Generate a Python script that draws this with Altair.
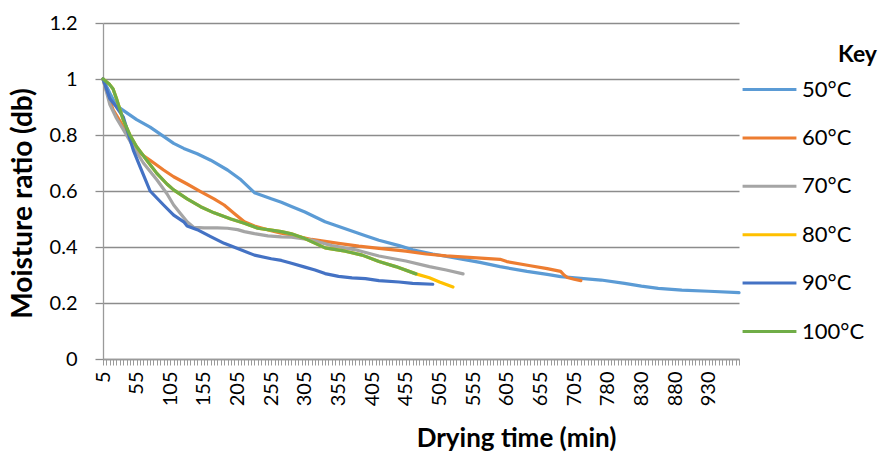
import json
import altair as alt
import pandas as pd

# x axis is a category axis: one category per reading (index 0..189)
x_labels = ['5', '55', '105', '155', '205', '255', '305', '355', '405', '455',
            '505', '555', '605', '655', '705', '780', '830', '880', '930']
n_categories = 190

series_names = ['50°C', '60°C', '70°C', '80°C', '90°C', '100°C']
colors = ['#5B9BD5', '#ED7D31', '#A5A5A5', '#FFC000', '#4472C4', '#70AD47']

s50_idx = [0, 2, 4, 6, 10, 14, 18, 21, 24, 28, 32, 37, 41, 45, 50, 53, 56, 60, 66, 72,
           78, 82, 88, 92, 98, 105, 112, 118, 126, 132, 136, 142, 148, 155, 160, 165,
           172, 180, 189]
s50_val = [1.0, 0.95, 0.905, 0.888, 0.855, 0.828, 0.795, 0.77, 0.752, 0.733, 0.71,
           0.675, 0.64, 0.594, 0.572, 0.56, 0.545, 0.525, 0.49, 0.465, 0.44, 0.424,
           0.405, 0.39, 0.375, 0.36, 0.345, 0.33, 0.313, 0.302, 0.294, 0.288, 0.282,
           0.27, 0.26, 0.252, 0.246, 0.242, 0.237]

s60_idx = [0, 1, 3, 4, 6, 8, 11, 14, 18, 21, 25, 29, 33, 36, 39, 42, 45, 50, 53, 56,
           62, 70, 76, 82, 90, 96, 102, 110, 118, 120, 127, 132, 136, 137, 138, 140, 142]
s60_val = [1.0, 0.96, 0.89, 0.87, 0.83, 0.79, 0.735, 0.71, 0.675, 0.651, 0.625, 0.598,
           0.572, 0.55, 0.52, 0.49, 0.475, 0.458, 0.449, 0.443, 0.427, 0.413, 0.403,
           0.395, 0.385, 0.375, 0.368, 0.362, 0.356, 0.348, 0.333, 0.323, 0.313, 0.3,
           0.291, 0.285, 0.28]

s70_idx = [0, 2, 4, 6, 9, 12, 16, 19, 21, 23, 25, 27, 30, 34, 37, 40, 42, 45, 49, 53,
           56, 62, 68, 75, 82, 90, 97, 102, 107]
s70_val = [1.0, 0.91, 0.86, 0.82, 0.758, 0.7, 0.64, 0.59, 0.55, 0.52, 0.49, 0.47,
           0.468, 0.468, 0.467, 0.462, 0.455, 0.448, 0.44, 0.436, 0.435, 0.425, 0.405,
           0.39, 0.368, 0.35, 0.33, 0.318, 0.304]

s80_idx = [0, 1, 2, 3, 4, 6, 8, 10, 13, 16, 19, 21, 25, 29, 33, 38, 42, 46, 50, 53,
           56, 60, 66, 72, 77, 82, 87, 93, 97, 100, 104]
s80_val = [1.0, 0.99, 0.98, 0.964, 0.93, 0.854, 0.8, 0.758, 0.71, 0.663, 0.625, 0.604,
           0.572, 0.544, 0.522, 0.5, 0.485, 0.467, 0.46, 0.455, 0.447, 0.43, 0.397,
           0.385, 0.371, 0.348, 0.33, 0.304, 0.29, 0.275, 0.257]

s90_idx = [0, 2, 4, 6, 9, 11, 14, 18, 21, 24, 25, 28, 32, 36, 40, 45, 50, 53, 56, 60,
           63, 66, 70, 74, 78, 82, 88, 92, 98]
s90_val = [1.0, 0.93, 0.9, 0.865, 0.746, 0.687, 0.6, 0.55, 0.514, 0.49, 0.475, 0.462,
           0.437, 0.413, 0.395, 0.371, 0.358, 0.352, 0.342, 0.328, 0.318, 0.305, 0.295,
           0.29, 0.287, 0.28, 0.275, 0.27, 0.267]

s100_idx = [0, 1, 2, 3, 4, 6, 8, 10, 13, 16, 19, 21, 25, 29, 33, 38, 42, 46, 50, 53,
            56, 60, 66, 72, 77, 82, 87, 93]
s100_val = [1.0, 0.99, 0.98, 0.964, 0.93, 0.854, 0.8, 0.758, 0.71, 0.663, 0.625, 0.604,
            0.572, 0.544, 0.522, 0.5, 0.485, 0.467, 0.46, 0.455, 0.447, 0.43, 0.397,
            0.385, 0.371, 0.348, 0.33, 0.304]

all_series = [(s50_idx, s50_val), (s60_idx, s60_val), (s70_idx, s70_val),
              (s80_idx, s80_val), (s90_idx, s90_val), (s100_idx, s100_val)]

rows = []
for name, (idxs, vals) in zip(series_names, all_series):
    for i, v in zip(idxs, vals):
        rows.append({'series': name, 'step': i, 'mr': v})
df = pd.DataFrame(rows)

FONT = 'Lato'
label_expr = ("datum.value % 10 == 0 ? " + json.dumps(x_labels) +
              "[datum.value / 10] : ''")

x_enc = alt.X('step:Q',
              scale=alt.Scale(domain=[0, n_categories - 1], nice=False, zero=False),
              axis=alt.Axis(title='Drying time (min)', values=list(range(n_categories)),
                            labelExpr=label_expr, labelAngle=270, labelFontSize=20,
                            labelFont=FONT, labelColor='#000000', labelPadding=6,
                            labelOverlap=False, labelBound=False, labelFlush=False,
                            tickSize=6, tickColor='#9a9a9a', tickWidth=1,
                            domainColor='#9a9a9a', domainWidth=1.3, grid=False,
                            titleFont=FONT, titleFontSize=26, titleFontWeight='bold',
                            titleColor='#000000', titleX=413, titleY=87,
                            titleAlign='center', titleBaseline='alphabetic'))
y_enc = alt.Y('mr:Q',
              scale=alt.Scale(domain=[0, 1.2], nice=False),
              axis=alt.Axis(title='Moisture ratio (db)', values=[0, 0.2, 0.4, 0.6, 0.8, 1.0, 1.2],
                            labelExpr="datum.value == 0 ? '0' : datum.value == 1 ? '1' : format(datum.value, '.1f')",
                            labelFontSize=20, labelFont=FONT, labelColor='#000000',
                            labelPadding=18, tickSize=8, tickColor='#8c8c8c', tickWidth=1.3,
                            domainColor='#9a9a9a', domainWidth=1.3,
                            grid=True, gridColor='#8c8c8c', gridWidth=1.3,
                            titleFont=FONT, titleFontSize=28, titleFontWeight='bold',
                            titleColor='#000000', titleX=-80, titleY=180,
                            titleAlign='center', titleBaseline='middle', titleAngle=270))
color_enc = alt.Color('series:N',
                      scale=alt.Scale(domain=series_names, range=colors),
                      legend=alt.Legend(title='', orient='none', legendX=638, legendY=38,
                                        labelFont=FONT, labelFontSize=22, labelColor='#000000',
                                        symbolType='stroke', symbolSize=2900, symbolStrokeWidth=3,
                                        rowPadding=8.4, labelOffset=4))

layers = []
for name in series_names:
    layers.append(
        alt.Chart(df).transform_filter(alt.datum.series == name)
        .mark_line(strokeWidth=3.2, strokeCap='round', strokeJoin='round')
        .encode(x=x_enc, y=y_enc, color=color_enc, order='step:Q')
    )

chart = alt.layer(*layers).properties(
    width=636, height=336,
    autosize=alt.AutoSizeParams(type='none'),
    padding={'left': 103, 'top': 23, 'right': 145, 'bottom': 93},
    background='white',
    title=alt.TitleParams('Key', anchor='start', frame='group', orient='top',
                          dx=735, dy=65, offset=0, baseline='middle',
                          font=FONT, fontSize=23, fontWeight='bold', color='#000000')
).configure_view(stroke=None)

chart.save('out.html', embed_options={'renderer': 'svg', 'actions': False})
